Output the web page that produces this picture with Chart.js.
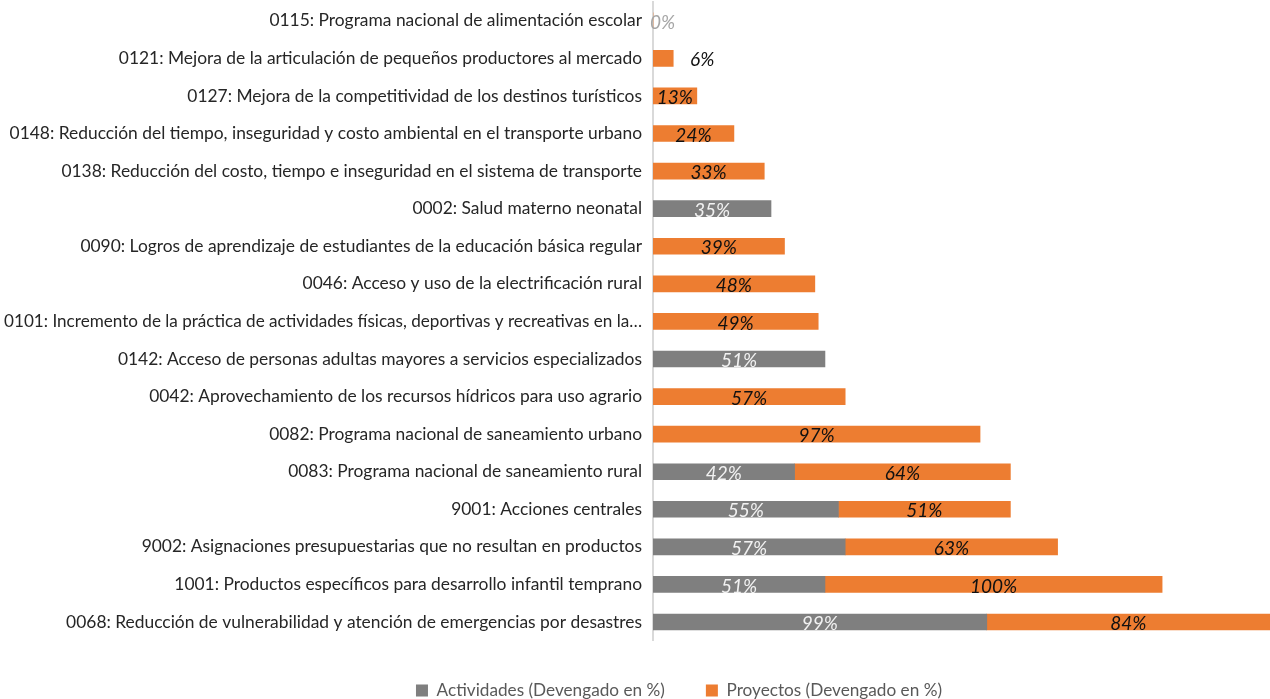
<!DOCTYPE html>
<html><head><meta charset="utf-8">
<script src="https://cdn.jsdelivr.net/npm/chart.js@4"></script>
<style>html,body{margin:0;padding:0;background:#fff}#wrap{width:1270px;height:699px}</style>
</head><body><div id="wrap"><canvas id="c"></canvas></div>
<script>
const categories = [
 "0115: Programa nacional de alimentación escolar",
 "0121: Mejora de la articulación de pequeños productores al mercado",
 "0127: Mejora de la competitividad de los destinos turísticos",
 "0148: Reducción del tiempo, inseguridad y costo ambiental en el transporte urbano",
 "0138: Reducción del costo, tiempo e inseguridad en el sistema de transporte",
 "0002: Salud materno neonatal",
 "0090: Logros de aprendizaje de estudiantes de la educación básica regular",
 "0046: Acceso y uso de la electrificación rural",
 "0101: Incremento de la práctica de actividades físicas, deportivas y recreativas en la…",
 "0142: Acceso de personas adultas mayores a servicios especializados",
 "0042: Aprovechamiento de los recursos hídricos para uso agrario",
 "0082: Programa nacional de saneamiento urbano",
 "0083: Programa nacional de saneamiento rural",
 "9001: Acciones centrales",
 "9002: Asignaciones presupuestarias que no resultan en productos",
 "1001: Productos específicos para desarrollo infantil temprano",
 "0068: Reducción de vulnerabilidad y atención de emergencias por desastres"
];
const actividades = [null,null,null,null,null,35,null,null,null,51,null,null,42,55,57,51,99];
const proyectos   = [0,6,13,24,33,null,39,48,49,null,57,97,64,51,63,100,84];
const seriesNames = ["Actividades (Devengado en %)","Proyectos (Devengado en %)"];

const labelPlugin = {
  id:'vlabels',
  afterLayout(chart){
    const lg = chart.legend;
    if (lg) { lg.left += 44; lg.right += 44; }
  },
  afterDatasetsDraw(chart){
    const ctx = chart.ctx;
    ctx.save();
    ctx.font = 'italic 19px Lato';
    ctx.textBaseline = 'middle';
    chart.data.datasets.forEach((ds,di)=>{
      const meta = chart.getDatasetMeta(di);
      meta.data.forEach((el,i)=>{
        const v = ds.data[i];
        if (v === null || v === undefined) return;
        const txt = v + '%';
        const tw = ctx.measureText(txt).width;
        const w = Math.abs(el.x - el.base);
        let x = (el.x + el.base)/2;
        ctx.textAlign = 'center';
        if (v === 0) { ctx.fillStyle = '#a6a6a6'; ctx.textAlign='left'; x = el.base - 3; }
        else if (w < tw) { ctx.fillStyle = '#111'; x = el.x + 29; }
        else ctx.fillStyle = di === 0 ? '#f2f2f2' : '#111';
        ctx.fillText(txt, x, el.y + 2);
      });
    });
    ctx.restore();
  }
};

new Chart(document.getElementById('c'), {
  type:'bar',
  data:{
    labels: categories,
    datasets:[
      {label: seriesNames[0], data: actividades, backgroundColor:'#7f7f7f', barThickness:16},
      {label: seriesNames[1], data: proyectos, backgroundColor:'#ed7d31', barThickness:16}
    ]
  },
  options:{
    indexAxis:'y',
    responsive:true, maintainAspectRatio:false, animation:false,
    layout:{padding:{top:2,right:0,left:0,bottom:-10}},
    scales:{
      x:{stacked:true, min:0, max:183, display:false},
      y:{stacked:true,
         grid:{display:true, drawOnChartArea:false, drawTicks:false},
         border:{display:true, color:'#d9d9d9', width:2},
         ticks:{font:(c)=>({family:'Lato', size: (c.index === 8 ? 17.1 : 17.4)}), color:'#262626', padding:11, autoSkip:false},
         afterFit(s){ s.width = 653; s.paddingTop = 0; s.paddingBottom = 0; }
      }
    },
    plugins:{
      legend:{position:'bottom', labels:{font:{family:'Lato',size:17.2}, color:'#595959', boxWidth:12, boxHeight:12, padding:41}},
      tooltip:{enabled:false}
    }
  },
  plugins:[labelPlugin]
});
</script></body></html>
